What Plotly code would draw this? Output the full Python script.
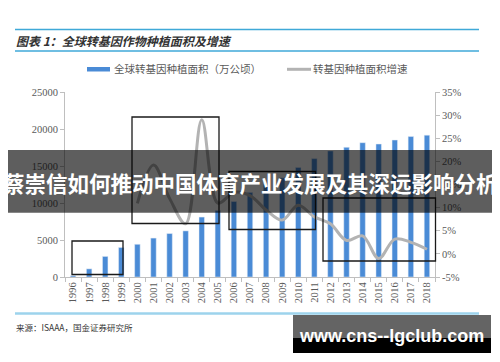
import plotly.graph_objects as go

years = [str(y) for y in range(1996, 2019)]
area = [170, 1100, 2780, 3990, 4420, 5260, 5870, 6230, 8100, 9000, 10200, 11430,
        12500, 13400, 14800, 16000, 17030, 17520, 18150, 17970, 18510, 18980, 19170]
growth = [None, None, None, None, 10.9, 19.2, 12.0, 6.5, 29.0, 11.0, 13.3, 12.6,
          9.5, 7.3, 10.5, 8.0, 6.5, 2.9, 3.9, -1.0, 3.2, 2.5, 1.0]
left_ticks = [0, 5000, 10000, 15000, 20000, 25000]
right_ticks = [-5, 0, 5, 10, 15, 20, 25, 30, 35]
right_labels = ["-5%", "0%", "5%", "10%", "15%", "20%", "25%", "30%", "35%"]

title_text = "图表 1：全球转基因作物种植面积及增速"
legend_bar = "全球转基因种植面积（万公顷）"
legend_line = "转基因种植面积增速"
source_text = "来源：ISAAA，国金证券研究所"
banner_text = "蔡崇信如何推动中国体育产业发展及其深远影响分析"
mark_text = "www.cns--lgclub.com"

L, R, T, B = 65, 435, 92, 277
W, H = R - L, B - T

def px(x):
    return (x - L) / W

def py(y):
    return (B - y) / H

serif = "Liberation Serif"
cjk = "Noto Sans CJK SC"
tick_color = "#595959"
axis_color = "#bfbfbf"

fig = go.Figure()
fig.add_trace(go.Bar(x=years, y=area, marker_color="#4a8bd6", width=0.34,
                     name=legend_bar, showlegend=False))
fig.add_trace(go.Scatter(x=years, y=growth, yaxis="y2", mode="lines",
                         line=dict(color="#b3b3b3", width=3, shape="spline", smoothing=1.0),
                         name=legend_line, showlegend=False, connectgaps=False))

shapes = []
def rect(x0, y0, x1, y1, **kw):
    d = dict(type="rect", xref="paper", yref="paper",
             x0=px(x0), x1=px(x1), y0=py(y1), y1=py(y0))
    d.update(kw)
    shapes.append(d)

def hline(x0, x1, y, color, width):
    shapes.append(dict(type="line", xref="paper", yref="paper",
                       x0=px(x0), x1=px(x1), y0=py(y), y1=py(y),
                       line=dict(color=color, width=width)))

# header/footer rules
hline(15, 479, 29.5, "#3fa9d8", 1.5)
hline(15, 479, 51, "#3fa9d8", 1.5)
hline(15, 479, 313.5, "#9dd3ec", 2.5)

# legend symbols
rect(87, 67, 110, 71.5, fillcolor="#4a8bd6", line=dict(width=0))
hline(287, 311, 69.3, "#b3b3b3", 3)

# black highlight boxes
box = dict(fillcolor="rgba(0,0,0,0)", line=dict(color="#1a1a1a", width=1.3))
rect(72, 241, 123, 274.5, **box)
rect(132, 117, 219, 223.5, **box)
rect(229, 171.5, 315.5, 229.5, **box)
rect(323, 198, 435.5, 261, **box)

# banner overlay
rect(8, 150, 492, 212.7, fillcolor="rgba(0,0,0,0.63)", line=dict(width=0), layer="above")
# watermark box
rect(293, 315, 491, 338, fillcolor="#646464", line=dict(width=0), layer="above")
rect(293, 338, 491, 353, fillcolor="#000000", line=dict(width=0), layer="above")

ann = []
def text(x, y, s, size, color, family, xanchor="left", bold=False, italic=False):
    if bold:
        s = "<b>" + s + "</b>"
    if italic:
        s = "<i>" + s + "</i>"
    ann.append(dict(x=px(x), y=py(y), xref="paper", yref="paper", text=s,
                    showarrow=False, xanchor=xanchor, yanchor="middle",
                    font=dict(size=size, color=color, family=family)))

text(14, 40.5, title_text, 12, "#333333", cjk, bold=True, italic=True)
text(112, 69, legend_bar, 10.5, tick_color, cjk)
text(311, 69, legend_line, 10.5, tick_color, cjk)
text(14, 326.5, source_text, 8.5, "#333333", cjk)
text(250, 182, banner_text, 21.5, "#ffffff", cjk, xanchor="center", bold=True)
text(391, 335.5, mark_text, 18, "#ffffff", "Liberation Sans", xanchor="center", bold=True)

fig.update_layout(
    width=500, height=362,
    margin=dict(l=L, r=500 - R, t=T, b=362 - B, pad=0),
    paper_bgcolor="white", plot_bgcolor="white",
    shapes=shapes, annotations=ann,
    showlegend=False,
    bargap=0.6,
    xaxis=dict(type="category", showline=True, linecolor=axis_color, linewidth=1,
               ticks="outside", ticklen=4, tickcolor=axis_color, tickson="boundaries",
               tickangle=-90, showgrid=False, automargin=False,
               tickfont=dict(family=serif, size=10.5, color=tick_color)),
    yaxis=dict(range=[0, 25000], tickvals=left_ticks, showline=True, linecolor=axis_color,
               linewidth=1, ticks="outside", ticklen=4, tickcolor=axis_color,
               showgrid=False, zeroline=False, tickformat="d", automargin=False,
               tickfont=dict(family=serif, size=10.5, color=tick_color)),
    yaxis2=dict(range=[-5, 35], tickvals=right_ticks, ticktext=right_labels,
                overlaying="y", side="right", showline=True, linecolor=axis_color,
                linewidth=1, ticks="outside", ticklen=4, tickcolor=axis_color,
                showgrid=False, zeroline=False, automargin=False,
                tickfont=dict(family=serif, size=10.5, color=tick_color)),
)

fig.write_html("out.html", config={"displayModeBar": False},
               post_script="document.body.style.margin='0';document.body.style.overflow='hidden';")
